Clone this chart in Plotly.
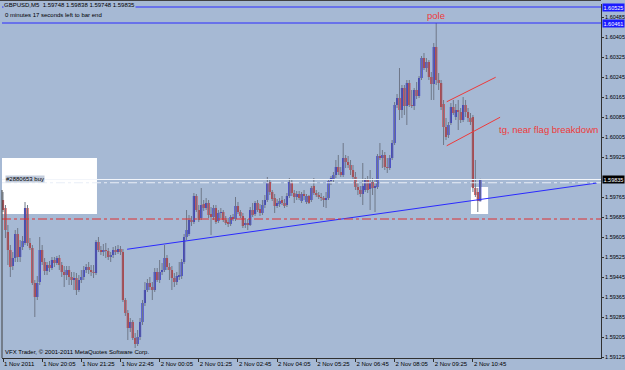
import plotly.graph_objects as go

# ---------------- data (GBPUSD M5, bar index 0 = 1 Nov 18:45) ----------------
bar_index = list(range(196))

opens = [1.59753,1.59721,1.59625,1.59553,1.59489,1.59521,1.59617,1.59525,1.59565,1.59581,
1.59721,1.59581,1.59561,1.59421,1.59365,1.59425,1.59553,1.59505,1.59469,1.59493,
1.59481,1.59513,1.59501,1.59521,1.59493,1.59465,1.59453,1.59473,1.59445,1.59433,
1.59441,1.59393,1.59433,1.59445,1.59473,1.59485,1.59473,1.59465,1.59461,1.59585,
1.59553,1.59545,1.59553,1.59549,1.59525,1.59533,1.59553,1.59545,1.59557,1.59545,
1.59353,1.59301,1.59241,1.59265,1.59201,1.59177,1.59205,1.59265,1.59341,1.59393,
1.59421,1.59405,1.59393,1.59465,1.59433,1.59465,1.59473,1.59521,1.59485,1.59473,
1.59441,1.59425,1.59445,1.59449,1.59505,1.59605,1.59617,1.59673,1.59665,1.59769,
1.59713,1.59681,1.59737,1.59721,1.59741,1.59697,1.59685,1.59721,1.59669,1.59701,
1.59705,1.59673,1.59665,1.59657,1.59685,1.59677,1.59729,1.59705,1.59689,1.59653,
1.59661,1.59653,1.59713,1.59697,1.59741,1.59717,1.59701,1.59733,1.59753,1.59825,
1.59785,1.59761,1.59729,1.59737,1.59753,1.59741,1.59733,1.59769,1.59825,1.59781,
1.59765,1.59777,1.59749,1.59777,1.59745,1.59769,1.59753,1.59809,1.59781,1.59773,
1.59765,1.59761,1.59753,1.59761,1.59829,1.59837,1.59853,1.59885,1.59865,1.59853,
1.59921,1.59905,1.59893,1.59873,1.59845,1.59805,1.59793,1.59777,1.59793,1.59833,
1.59797,1.59825,1.59801,1.59805,1.59929,1.59921,1.59933,1.59885,1.59881,1.59921,
1.59981,1.60133,1.60161,1.60113,1.60201,1.60129,1.60221,1.60133,1.60129,1.60193,
1.60169,1.60241,1.60321,1.60281,1.60305,1.60245,1.60217,1.60365,1.60233,1.60221,
1.60137,1.60045,1.60013,1.60061,1.60125,1.60085,1.60113,1.60105,1.60073,1.60133,
1.60105,1.60081,1.60085,1.59801,1.59785,1.59748]

highs = [1.59785,1.59733,1.59653,1.59573,1.59545,1.59633,1.59641,1.59593,1.59609,1.59745,
1.59733,1.59601,1.59573,1.59433,1.59449,1.59605,1.59573,1.59521,1.59505,1.59509,
1.59525,1.59525,1.59529,1.59533,1.59505,1.59489,1.59489,1.59489,1.59465,1.59465,
1.59461,1.59453,1.59473,1.59489,1.59497,1.59505,1.59493,1.59493,1.59593,1.59605,
1.59569,1.59577,1.59581,1.59561,1.59545,1.59565,1.59569,1.59573,1.59569,1.59557,
1.59361,1.59313,1.59281,1.59273,1.59221,1.59233,1.59281,1.59353,1.59425,1.59437,
1.59445,1.59425,1.59481,1.59481,1.59513,1.59501,1.59573,1.59533,1.59501,1.59489,
1.59461,1.59465,1.59505,1.59517,1.59617,1.59713,1.59693,1.59689,1.59781,1.59777,
1.59733,1.59801,1.59753,1.59761,1.59753,1.59725,1.59733,1.59733,1.59713,1.59721,
1.59713,1.59689,1.59681,1.59693,1.59697,1.59765,1.59745,1.59713,1.59701,1.59681,
1.59677,1.59725,1.59741,1.59749,1.59753,1.59737,1.59753,1.59773,1.59845,1.59833,
1.59793,1.59777,1.59757,1.59761,1.59769,1.59757,1.59781,1.59841,1.59833,1.59793,
1.59789,1.59789,1.59785,1.59793,1.59777,1.59773,1.59809,1.59841,1.59793,1.59785,
1.59781,1.59769,1.59785,1.59837,1.59849,1.59865,1.59913,1.59933,1.59885,1.59981,
1.59933,1.59929,1.59913,1.59893,1.59865,1.59821,1.59809,1.59901,1.59841,1.59849,
1.59873,1.59841,1.59833,1.59937,1.59981,1.59953,1.59945,1.59921,1.59933,1.59993,
1.60145,1.60177,1.60281,1.60213,1.60213,1.60233,1.60233,1.60193,1.60201,1.60225,
1.60249,1.60329,1.60341,1.60321,1.60313,1.60265,1.60381,1.60461,1.60261,1.60233,
1.60153,1.60081,1.60065,1.60141,1.60153,1.60137,1.60153,1.60121,1.60165,1.60153,
1.60121,1.60101,1.60093,1.59913,1.59801,1.59838]

lows = [1.59705,1.59601,1.59493,1.59445,1.59473,1.59505,1.59505,1.59505,1.59553,1.59573,
1.59569,1.59553,1.59413,1.59285,1.59353,1.59413,1.59493,1.59453,1.59453,1.59465,
1.59473,1.59485,1.59493,1.59473,1.59445,1.59405,1.59433,1.59413,1.59413,1.59393,
1.59373,1.59385,1.59421,1.59433,1.59461,1.59457,1.59449,1.59441,1.59453,1.59545,
1.59533,1.59529,1.59521,1.59513,1.59505,1.59521,1.59533,1.59537,1.59533,1.59345,
1.59289,1.59193,1.59225,1.59193,1.59161,1.59169,1.59193,1.59253,1.59329,1.59385,
1.59393,1.59353,1.59385,1.59425,1.59421,1.59453,1.59465,1.59473,1.59433,1.59393,
1.59405,1.59413,1.59433,1.59437,1.59497,1.59593,1.59609,1.59649,1.59657,1.59705,
1.59665,1.59673,1.59709,1.59713,1.59681,1.59613,1.59673,1.59657,1.59661,1.59681,
1.59665,1.59653,1.59645,1.59649,1.59669,1.59669,1.59697,1.59681,1.59641,1.59641,
1.59633,1.59649,1.59685,1.59689,1.59705,1.59689,1.59693,1.59721,1.59745,1.59773,
1.59749,1.59701,1.59721,1.59725,1.59733,1.59721,1.59725,1.59761,1.59769,1.59741,
1.59753,1.59753,1.59741,1.59753,1.59737,1.59737,1.59745,1.59773,1.59765,1.59757,
1.59749,1.59725,1.59721,1.59753,1.59813,1.59825,1.59841,1.59853,1.59845,1.59845,
1.59881,1.59881,1.59853,1.59833,1.59793,1.59773,1.59765,1.59733,1.59785,1.59781,
1.59713,1.59773,1.59705,1.59797,1.59913,1.59881,1.59873,1.59861,1.59873,1.59913,
1.59973,1.60121,1.60073,1.60081,1.60093,1.60053,1.60125,1.60121,1.60113,1.60157,
1.60161,1.60233,1.60273,1.60265,1.60233,1.60153,1.60153,1.60213,1.60193,1.60113,
1.59973,1.59993,1.60001,1.60053,1.60093,1.60073,1.60033,1.60061,1.60065,1.60085,
1.60065,1.60053,1.59785,1.59765,1.59705,1.59748]

closes = [1.59713,1.59633,1.59553,1.59485,1.59521,1.59617,1.59525,1.59565,1.59589,1.59721,
1.59581,1.59561,1.59421,1.59365,1.59421,1.59553,1.59505,1.59469,1.59493,1.59481,
1.59513,1.59501,1.59521,1.59493,1.59465,1.59453,1.59473,1.59445,1.59433,1.59441,
1.59393,1.59433,1.59445,1.59473,1.59485,1.59473,1.59465,1.59461,1.59585,1.59553,
1.59545,1.59553,1.59549,1.59525,1.59533,1.59553,1.59545,1.59557,1.59545,1.59353,
1.59301,1.59241,1.59265,1.59201,1.59177,1.59205,1.59265,1.59341,1.59393,1.59421,
1.59405,1.59393,1.59465,1.59433,1.59465,1.59473,1.59521,1.59485,1.59473,1.59441,
1.59425,1.59449,1.59453,1.59505,1.59605,1.59633,1.59673,1.59665,1.59769,1.59713,
1.59673,1.59733,1.59721,1.59741,1.59693,1.59685,1.59721,1.59665,1.59701,1.59705,
1.59673,1.59661,1.59657,1.59685,1.59677,1.59729,1.59705,1.59689,1.59649,1.59661,
1.59653,1.59713,1.59693,1.59741,1.59713,1.59701,1.59733,1.59753,1.59825,1.59785,
1.59757,1.59729,1.59741,1.59749,1.59741,1.59729,1.59769,1.59825,1.59781,1.59765,
1.59777,1.59761,1.59777,1.59769,1.59769,1.59741,1.59801,1.59781,1.59773,1.59765,
1.59761,1.59753,1.59761,1.59829,1.59841,1.59853,1.59885,1.59865,1.59853,1.59921,
1.59905,1.59893,1.59873,1.59845,1.59805,1.59793,1.59777,1.59809,1.59833,1.59793,
1.59825,1.59801,1.59809,1.59929,1.59921,1.59933,1.59885,1.59881,1.59921,1.59981,
1.60133,1.60161,1.60113,1.60201,1.60129,1.60221,1.60133,1.60129,1.60193,1.60169,
1.60241,1.60321,1.60281,1.60305,1.60245,1.60217,1.60365,1.60233,1.60221,1.60125,
1.60045,1.60005,1.60053,1.60125,1.60101,1.60113,1.60105,1.60073,1.60133,1.60105,
1.60081,1.60065,1.59801,1.59773,1.59749,1.59835]

x_tick_idx = [0, 16, 32, 48, 64, 80, 96, 112, 128, 144, 160, 176, 192]
x_tick_text = ["1 Nov 2011", "1 Nov 20:05", "1 Nov 21:25", "1 Nov 22:45", "2 Nov 00:05",
               "2 Nov 01:25", "2 Nov 02:45", "2 Nov 04:05", "2 Nov 05:25", "2 Nov 06:45",
               "2 Nov 08:05", "2 Nov 09:25", "2 Nov 10:45"]
# 1.59845 sits under the bid-price box, so only the visible labels are listed
y_tick_vals = [1.59125, 1.59205, 1.59285, 1.59365, 1.59445, 1.59525, 1.59605, 1.59685,
               1.59765, 1.59925, 1.60005, 1.60085, 1.60165, 1.60245, 1.60325,
               1.60405, 1.60485]

# drawn objects
hline_blue = [1.60525, 1.60461]
bid_price = 1.59835
order_price = 1.59822
stop_price = 1.59677
trend_idx = [50.7, 242.7]
trend_px = [1.59556, 1.59821]
flag_up_idx = [181.3, 201.3]
flag_up_px = [1.60146, 1.60244]
flag_lo_idx = [181.3, 203.1]
flag_lo_px = [1.59970, 1.60084]
box1 = dict(x0=-0.41, x1=38.4, y0=1.59697, y1=1.59921)
box2 = dict(x0=191.2, x1=198.2, y0=1.59697, y1=1.59805)

# ---------------- styling ----------------
W, H = 625, 370
BG = "#a6b9d4"
BULL = "#2a2ad2"
BEAR = "#d42c2c"
WICK = "#6f7888"
FONT = "Liberation Sans"
AX = "#303030"

px_l, px_r, px_t, px_b = 2, 601, 4, 358
bar_px = 2.4475
x0r = -1 / bar_px
x1r = x0r + (px_r - px_l) / bar_px

def body(sel):
    xs, base, hgt = [], [], []
    for i, o, c in zip(bar_index, opens, closes):
        if sel(o, c):
            xs.append(i)
            base.append(min(o, c))
            hgt.append(max(abs(c - o), 0.000025))
    return xs, base, hgt

wx, wy = [], []
for i, h, l in zip(bar_index, highs, lows):
    wx += [i, i, None]
    wy += [l, h, None]

fig = go.Figure()
fig.add_trace(go.Scatter(x=wx, y=wy, mode="lines", line=dict(color=WICK, width=1),
                         hoverinfo="skip"))
bx, bb, bh = body(lambda o, c: c >= o)
fig.add_trace(go.Bar(x=bx, y=bh, base=bb, width=0.88, marker=dict(color=BULL, line=dict(width=0))))
rx, rb, rh = body(lambda o, c: c < o)
fig.add_trace(go.Bar(x=rx, y=rh, base=rb, width=0.88, marker=dict(color=BEAR, line=dict(width=0))))

fig.add_trace(go.Scatter(x=trend_idx, y=trend_px, mode="lines", line=dict(color="#2a2aff", width=1)))
fig.add_trace(go.Scatter(x=flag_up_idx, y=flag_up_px, mode="lines", line=dict(color="#ee3a3a", width=1)))
fig.add_trace(go.Scatter(x=flag_lo_idx, y=flag_lo_px, mode="lines", line=dict(color="#ee3a3a", width=1)))

shapes = []
for b in (box1, box2):
    shapes.append(dict(type="rect", xref="x", yref="y", layer="below", fillcolor="white",
                       line=dict(width=0), **b))
xa, xb = px_l / W, px_r / W
for p in hline_blue:
    shapes.append(dict(type="line", xref="paper", yref="y", x0=xa, x1=xb, y0=p, y1=p,
                       line=dict(color="#2a2aff", width=1)))
shapes.append(dict(type="line", xref="paper", yref="y", x0=xa, x1=xb, y0=bid_price, y1=bid_price,
                   line=dict(color="#f2f5fa", width=1)))
shapes.append(dict(type="line", xref="paper", yref="y", x0=xa, x1=xb, y0=order_price, y1=order_price,
                   line=dict(color="#e8eef7", width=1, dash="dashdot")))
shapes.append(dict(type="line", xref="paper", yref="y", x0=xa, x1=xb, y0=stop_price, y1=stop_price,
                   line=dict(color="#e03030", width=1, dash="dashdot")))
shapes.append(dict(type="line", xref="paper", yref="paper", x0=0, x1=xb, y0=1 - 0.5 / H, y1=1 - 0.5 / H,
                   line=dict(color="#404040", width=1)))
shapes.append(dict(type="line", xref="paper", yref="paper", x0=2 / W, x1=2 / W,
                   y0=1 - 358 / H, y1=1 - 190 / H, line=dict(color="#404040", width=1)))

small = dict(family=FONT, size=6, color="black")
xfont = dict(family=FONT, size=6, color="black")
yfont = dict(family=FONT, size=5.5, color="black")
ann = [
    dict(xref="paper", yref="paper", x=3 / W, y=1 - 1 / H, xanchor="left", yanchor="top",
         text="GBPUSD,M5  1.59748 1.59838 1.59748 1.59835", showarrow=False, font=small,
         bgcolor=BG, borderpad=0),
    dict(xref="paper", yref="paper", x=3 / W, y=1 - 10 / H, xanchor="left", yanchor="top",
         text="0 minutes 17 seconds left to bar end", showarrow=False, font=small),
    dict(xref="paper", yref="paper", x=3 / W, y=1 - 352 / H, xanchor="left", yanchor="middle",
         text="VFX Trader, © 2001-2011 MetaQuotes Software Corp.", showarrow=False, font=small),
    dict(xref="paper", yref="y", x=5 / W, y=1.59837, xanchor="left", yanchor="middle",
         text="#2880653 buy", showarrow=False, font=small, bgcolor="#c3cddd", borderpad=0),
    dict(xref="x", yref="y", x=176.9, y=1.60493, xanchor="center", yanchor="middle",
         text="pole", showarrow=False, font=dict(family=FONT, size=9.5, color="#ee3a3a")),
    dict(xref="x", yref="y", x=201.8, y=1.60037, xanchor="left", yanchor="middle",
         text="tg, near flag breakdown", showarrow=False,
         font=dict(family=FONT, size=9.5, color="#ee3a3a")),
]
for p, col in ((1.60525, "#1a1aff"), (1.60461, "#1a1aff"), (bid_price, "#000000")):
    ann.append(dict(xref="paper", yref="y", x=602 / W, y=p, xanchor="left", yanchor="middle",
                    text=f"{p:.5f}", showarrow=False, bgcolor=col, borderpad=0.5,
                    font=dict(family=FONT, size=5.5, color="white")))

fig.update_layout(
    width=W, height=H, margin=dict(l=0, r=0, t=0, b=0),
    paper_bgcolor=BG, plot_bgcolor=BG, showlegend=False, barmode="overlay",
    hovermode=False, shapes=shapes, annotations=ann,
    xaxis=dict(domain=[xa, xb], range=[x0r, x1r], tickvals=x_tick_idx, ticktext=x_tick_text,
               ticks="outside", ticklen=3, tickcolor=AX, showline=True, linecolor=AX, linewidth=1,
               showgrid=False, zeroline=False, ticklabelposition="outside right", tickangle=0,
               tickfont=xfont, automargin=False, fixedrange=True),
    yaxis=dict(domain=[1 - px_b / H, 1 - px_t / H], range=[1.59121, 1.60537], side="right",
               anchor="x", tickvals=y_tick_vals, tickformat=".5f", ticks="outside", ticklen=2,
               tickcolor=AX, showline=True, linecolor=AX, linewidth=1, showgrid=False,
               zeroline=False, tickfont=yfont, automargin=False, fixedrange=True),
)

fig.write_html("out.html")
